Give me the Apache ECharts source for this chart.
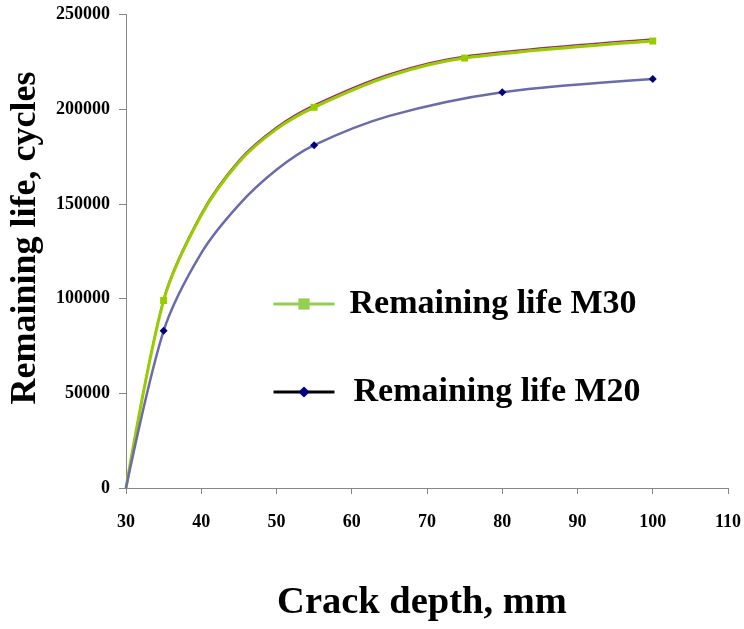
<!DOCTYPE html>
<html>
<head>
<meta charset="utf-8">
<script src="https://cdn.jsdelivr.net/npm/echarts@6/dist/echarts.min.js"></script>
<style>html,body{margin:0;padding:0;background:#fff}#c{width:744px;height:629px}</style>
</head>
<body>
<div id="c"></div>
<script>
var crackM30 = [30, 35, 40, 45, 50, 55, 65, 75, 100];
var lifeM30 = [0, 99000, 144000, 172000, 189500, 201000, 217500, 227000, 236000];
var trendM30 = [0, 100000, 145000, 173000, 190500, 202200, 218600, 228000, 237000];
var markedM30 = [35, 55, 75, 100];
var crackM20 = [30, 35, 40, 45, 50, 55, 65, 80, 100];
var lifeM20 = [0, 83000, 124000, 149500, 168000, 181000, 196500, 209000, 216000];
var markedM20 = [35, 55, 80, 100];
var xTicks = [30, 40, 50, 60, 70, 80, 90, 100, 110];
var yTicks = [0, 50000, 100000, 150000, 200000, 250000];

var FONT = "'Liberation Serif', 'Times New Roman', serif";
var SMOOTH = 0.3;
function pairs(xs, ys, marked) {
  return xs.map(function (x, i) {
    var d = { value: [x, ys[i]] };
    if (!marked || marked.indexOf(x) < 0) d.symbol = 'none';
    return d;
  });
}

var chart = echarts.init(document.getElementById('c'), null, { renderer: 'canvas' });
var option = {
  backgroundColor: '#fff',
  animation: false,
  grid: { left: 126, right: 15, top: 14.5, bottom: 141, containLabel: false },
  xAxis: {
    type: 'value', min: xTicks[0], max: xTicks[xTicks.length - 1], interval: 10,
    axisLine: { lineStyle: { color: '#868686', width: 1 } },
    axisTick: { show: true, length: 6, lineStyle: { color: '#868686' } },
    axisLabel: { margin: 25, color: '#000', fontFamily: FONT, fontWeight: 'bold', fontSize: 18,
      formatter: function (v) { return String(v); } },
    splitLine: { show: false }
  },
  yAxis: {
    type: 'value', min: yTicks[0], max: yTicks[yTicks.length - 1], interval: 50000,
    axisLine: { show: true, lineStyle: { color: '#868686', width: 1 } },
    axisTick: { show: true, length: 7, lineStyle: { color: '#868686' } },
    axisLabel: { margin: 16, color: '#000', fontFamily: FONT, fontWeight: 'bold', fontSize: 18,
      formatter: function (v) { return String(v); } },
    splitLine: { show: false }
  },
  legend: [
    {
      left: 272, top: 287, padding: 0, itemWidth: 61, itemHeight: 14,
      data: [{ name: 'Remaining life M30', itemStyle: { color: '#92d050' }, lineStyle: { color: '#92d050', width: 3 } }],
      textStyle: { fontFamily: FONT, fontWeight: 'bold', fontSize: 34, lineHeight: 34, color: '#000', padding: [0, 0, 0, 10] }
    },
    {
      left: 272, top: 375, padding: 0, itemWidth: 61, itemHeight: 14,
      data: [{ name: 'Remaining life M20', itemStyle: { color: '#000080' }, lineStyle: { color: '#000000', width: 3 } }],
      textStyle: { fontFamily: FONT, fontWeight: 'bold', fontSize: 34, lineHeight: 34, color: '#000', padding: [0, 0, 0, 14] }
    }
  ],
  graphic: [
    { type: 'text', x: 422, y: 603, style: { text: 'Crack depth, mm', font: "bold 38.5px " + FONT, fill: '#000', textAlign: 'center', textVerticalAlign: 'middle' } },
    { type: 'text', x: 26, y: 238, rotation: Math.PI / 2, style: { text: 'Remaining life, cycles', font: "bold 36px " + FONT, fill: '#000', textAlign: 'center', textVerticalAlign: 'middle' } }
  ],
  series: [
    {
      name: 'trend M30', type: 'line', data: pairs(crackM30, trendM30, null), smooth: SMOOTH,
      symbol: 'none', lineStyle: { color: '#993366', width: 1.5 }, z: 2, silent: true
    },
    {
      name: 'Remaining life M30', type: 'line', data: pairs(crackM30, lifeM30, markedM30), smooth: SMOOTH,
      symbol: 'rect', symbolSize: 7, itemStyle: { color: '#99cc00' },
      lineStyle: { color: '#99cc00', width: 3 }, z: 3
    },
    {
      name: 'Remaining life M20', type: 'line', data: pairs(crackM20, lifeM20, markedM20), smooth: SMOOTH,
      symbol: 'diamond', symbolSize: 8, itemStyle: { color: '#000080' },
      lineStyle: { color: '#6b6bab', width: 2.5 }, z: 3
    }
  ]
};
chart.setOption(option);
</script>
</body>
</html>
